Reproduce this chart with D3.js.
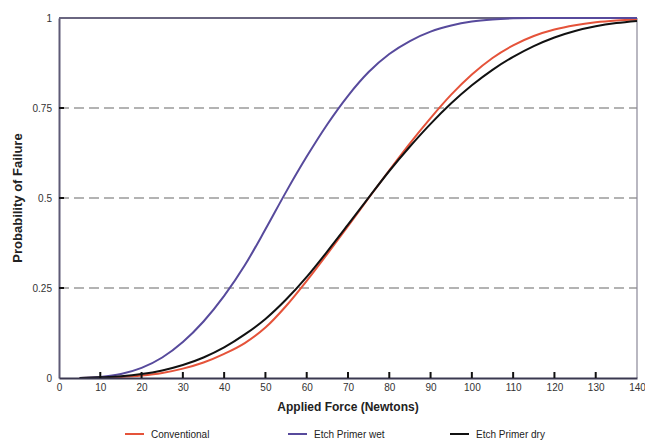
<!DOCTYPE html>
<html>
<head>
<meta charset="utf-8">
<script src="https://cdn.jsdelivr.net/npm/d3@7"></script>
<style>
  body { margin: 0; background: #fff; }
  svg { font-family: "Liberation Sans", Arial, sans-serif; }
</style>
</head>
<body>
<div id="chart"></div>
<script>
// applied force (N) and probability of failure
const force = [5, 10, 15, 20, 25, 30, 35, 40, 45, 50, 55, 60, 65, 70, 75, 80, 85, 90, 95, 100, 105, 110, 115, 120, 125, 130, 135, 140];
const conventional = [0, 0.001, 0.003, 0.007, 0.014, 0.026, 0.043, 0.067, 0.097, 0.14, 0.2, 0.27, 0.345, 0.422, 0.5, 0.577, 0.652, 0.722, 0.787, 0.843, 0.889, 0.924, 0.95, 0.968, 0.98, 0.988, 0.993, 0.996];
const etchWet = [0, 0.003, 0.011, 0.028, 0.057, 0.1, 0.157, 0.228, 0.313, 0.413, 0.517, 0.615, 0.705, 0.784, 0.85, 0.9, 0.936, 0.962, 0.979, 0.99, 0.996, 0.999, 1, 1, 1, 1, 1, 1];
const etchDry = [0, 0.002, 0.005, 0.011, 0.021, 0.036, 0.057, 0.085, 0.121, 0.164, 0.218, 0.281, 0.352, 0.426, 0.501, 0.575, 0.643, 0.706, 0.763, 0.813, 0.856, 0.892, 0.922, 0.946, 0.964, 0.977, 0.986, 0.992];

const xTicks = [0, 10, 20, 30, 40, 50, 60, 70, 80, 90, 100, 110, 120, 130, 140];
const yTicks = [0, 0.25, 0.5, 0.75, 1];
const yTickLabels = ["0", "0.25", "0.5", "0.75", "1"];

const seriesNames = ["Conventional", "Etch Primer wet", "Etch Primer dry"];
const seriesValues = [conventional, etchWet, etchDry];
const seriesColors = ["#e5533a", "#574a9c", "#111111"];

const W = 645, H = 441;
const m = {left: 59, right: 8, top: 18, bottom: 63};

const svg = d3.select("#chart").append("svg")
    .attr("width", W)
    .attr("height", H);

const x = d3.scaleLinear().domain([0, 140]).range([m.left, W - m.right]);
const y = d3.scaleLinear().domain([0, 1]).range([H - m.bottom, m.top]);

// dashed grid lines
svg.append("g")
    .selectAll("line")
    .data([0.25, 0.5, 0.75])
    .join("line")
    .attr("x1", x(0)).attr("x2", x(140))
    .attr("y1", d => y(d)).attr("y2", d => y(d))
    .attr("stroke", "#9a9a9a")
    .attr("stroke-width", 1.4)
    .attr("stroke-dasharray", "10,5");

// frame: top and right
svg.append("line")
    .attr("x1", x(0)).attr("x2", x(140))
    .attr("y1", y(1)).attr("y2", y(1))
    .attr("stroke", "#6a6680").attr("stroke-width", 2);
svg.append("line")
    .attr("x1", x(140)).attr("x2", x(140))
    .attr("y1", y(1)).attr("y2", y(0))
    .attr("stroke", "#8a8898").attr("stroke-width", 1.2);

// curves
const line = d3.line()
    .x((d, i) => x(force[i]))
    .y(d => y(d))
    .curve(d3.curveMonotoneX);

svg.append("g")
    .selectAll("path")
    .data(seriesValues)
    .join("path")
    .attr("d", d => line(d))
    .attr("fill", "none")
    .attr("stroke", (d, i) => seriesColors[i])
    .attr("stroke-width", 2);

// left axis
const yAxis = svg.append("g")
    .attr("transform", `translate(${x(0)},0)`)
    .call(d3.axisLeft(y).tickValues(yTicks).tickFormat((d, i) => yTickLabels[i]).tickSize(0).tickPadding(7));
yAxis.select(".domain").attr("stroke", "#5e5a76").attr("stroke-width", 2);
yAxis.selectAll("text").attr("font-size", 10).attr("fill", "#333");

svg.append("g")
    .selectAll("line")
    .data([0.25, 0.5, 0.75])
    .join("line")
    .attr("x1", x(0)).attr("x2", x(0) + 5)
    .attr("y1", d => y(d)).attr("y2", d => y(d))
    .attr("stroke", "#111").attr("stroke-width", 2);

// bottom axis
const xAxis = svg.append("g")
    .attr("transform", `translate(0,${y(0)})`)
    .call(d3.axisBottom(x).tickValues(xTicks).tickSize(0).tickPadding(6));
xAxis.select(".domain").attr("stroke", "#3a3850").attr("stroke-width", 2);
xAxis.selectAll("text").attr("font-size", 10).attr("fill", "#333");

svg.append("g")
    .selectAll("line")
    .data(xTicks.slice(1, -1))
    .join("line")
    .attr("x1", d => x(d)).attr("x2", d => x(d))
    .attr("y1", y(0)).attr("y2", y(0) - 6)
    .attr("stroke", "#111").attr("stroke-width", 2);

// axis titles
svg.append("text")
    .attr("x", (x(0) + x(140)) / 2)
    .attr("y", 411)
    .attr("text-anchor", "middle")
    .attr("font-size", 12)
    .attr("font-weight", "bold")
    .attr("fill", "#222")
    .text("Applied Force (Newtons)");

svg.append("text")
    .attr("transform", `translate(22,${(y(0) + y(1)) / 2}) rotate(-90)`)
    .attr("text-anchor", "middle")
    .attr("font-size", 13)
    .attr("font-weight", "bold")
    .attr("fill", "#222")
    .text("Probability of Failure");

// legend
const legendX = [125, 288, 450];
const legend = svg.append("g")
    .selectAll("g")
    .data(seriesNames)
    .join("g")
    .attr("transform", (d, i) => `translate(${legendX[i]},434)`);

legend.append("line")
    .attr("x1", 0).attr("x2", 19)
    .attr("stroke", (d, i) => seriesColors[i])
    .attr("stroke-width", 2);

legend.append("text")
    .attr("x", 26)
    .attr("y", 3.5)
    .attr("font-size", 10)
    .attr("fill", "#222")
    .text(d => d);
</script>
</body>
</html>
